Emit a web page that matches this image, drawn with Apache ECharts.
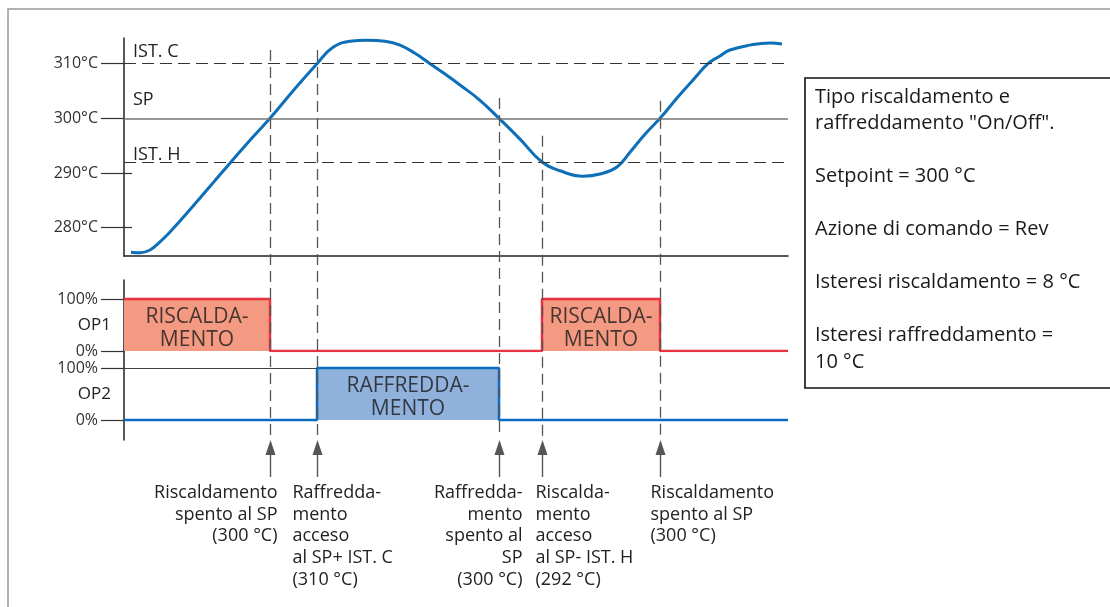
<!DOCTYPE html>
<html>
<head>
<meta charset="utf-8">
<script src="https://cdn.jsdelivr.net/npm/echarts@6/dist/echarts.min.js"></script>
<style>
  html, body { margin: 0; padding: 0; background: #fff; }
  #main { width: 1110px; height: 607px; }
</style>
</head>
<body>
<div id="main"></div>
<script>
// tempo (unità arbitrarie) e temperatura misurata
const timeT = [7, 16, 26, 36, 46, 56, 76, 91, 107, 126, 146, 169, 193, 209, 226, 243, 261, 276, 291, 306, 321, 336, 356, 375, 396, 418, 436, 459, 476, 493, 506, 521, 536, 553, 569, 584, 596, 606, 626, 646, 658];
const tempC = [275.5, 275.4, 275.9, 277.4, 279.2, 281.2, 285.4, 288.6, 292.0, 296.0, 300, 305.0, 310, 313.0, 314.1, 314.3, 314.1, 313.4, 311.9, 310, 308.1, 306.1, 303.3, 300, 296.2, 292, 290.4, 289.4, 289.8, 291.1, 293.8, 297.1, 300, 303.7, 307.0, 310, 311.4, 312.5, 313.4, 313.8, 313.6];

// soglie
const setpoint = 300;
const istC = 310;
const istH = 292;
const tempTicks = [280, 290, 300, 310];

// uscite OP1 (riscaldamento) e OP2 (raffreddamento)
const op1T = [0, 146, 418, 536, 664];
const op1V = [100, 0, 100, 0, 0];
const op2T = [0, 193, 375, 664];
const op2V = [0, 100, 0, 0];
const opTicks = [0, 100];

// eventi (frecce in basso)
const eventT = [146, 193, 375, 418, 536];
const markerTop = [312.5, 312.5, 303.7, 296.8, 303.2];
const notes = [
  'Riscaldamento\nspento al SP\n(300 °C)',
  'Raffredda-\nmento\nacceso\nal SP+ IST. C\n(310 °C)',
  'Raffredda-\nmento\nspento al\nSP\n(300 °C)',
  'Riscalda-\nmento\nacceso\nal SP- IST. H\n(292 °C)',
  'Riscaldamento\nspento al SP\n(300 °C)'
];
const noteAlign = ['right', 'left', 'right', 'left', 'left'];
const noteDx = [7, -25, 23, -7, -10];

const infoText = 'Tipo riscaldamento e\nraffreddamento "On/Off".\n\nSetpoint = 300 °C\n\nAzione di comando = Rev\n\nIsteresi riscaldamento = 8 °C\n\nIsteresi raffreddamento =\n10 °C';

const FONT = "'Open Sans', sans-serif";
const INK = '#222';

let chart = echarts.init(document.getElementById('main'));

function opAxis(gridIndex, min, max) {
  return {
    gridIndex, type: 'value', min, max,
    axisLine: { show: true, lineStyle: { color: INK, width: 1.5 } },
    axisTick: { show: true, customValues: opTicks, length: 23, lineStyle: { color: '#333', width: 1.2 } },
    axisLabel: { customValues: opTicks, formatter: '{value}%', margin: 26, fontSize: 16, color: '#333' },
    splitLine: { show: false }
  };
}

// scritte al centro dei blocchi ON
function blockLabels(ts, vs, txt) {
  let out = [];
  for (let i = 0; i < ts.length - 1; i++) {
    if (vs[i] === 100) out.push({ value: [(ts[i] + ts[i + 1]) / 2, 50], name: txt });
  }
  return out;
}

const boxLabel = {
  show: true, position: 'inside', formatter: '{b}', offset: [0, 4],
  fontSize: 21, lineHeight: 23, color: '#1a1a1a', fontFamily: FONT,
  textBorderWidth: 0
};

let option = {
  animation: false,
  textStyle: { fontFamily: FONT },
  grid: [
    { left: 124, top: 38, width: 664, height: 218 },
    { left: 124, top: 280, width: 664, height: 71 },
    { left: 124, top: 351, width: 664, height: 89 }
  ],
  xAxis: [
    {
      gridIndex: 0, type: 'value', min: 0, max: 664,
      axisLine: { show: true, lineStyle: { color: INK, width: 1.5 } },
      axisTick: { show: false }, axisLabel: { show: false }, splitLine: { show: false }
    },
    { gridIndex: 1, type: 'value', min: 0, max: 664, show: false },
    { gridIndex: 2, type: 'value', min: 0, max: 664, show: false }
  ],
  yAxis: [
    {
      gridIndex: 0, type: 'value', min: 274.8, max: 314.7, position: 'left',
      axisLine: { show: true, lineStyle: { color: INK, width: 1.5 } },
      axisTick: { show: true, customValues: tempTicks, length: 23, lineStyle: { color: '#333', width: 1.2 } },
      axisLabel: { customValues: tempTicks, formatter: '{value}°C', margin: 26, fontSize: 16, color: '#333' },
      splitLine: { show: false }
    },
    {
      // tacche interne a 280 e 290
      gridIndex: 0, type: 'value', min: 274.8, max: 314.7, position: 'left', offset: 0,
      axisLine: { show: false },
      axisTick: { show: true, inside: true, customValues: [280, 290], length: 8, lineStyle: { color: '#333', width: 1.2 } },
      axisLabel: { show: false }, splitLine: { show: false }
    },
    opAxis(1, 0, 136.5),
    opAxis(2, -38.5, 132.7)
  ],
  series: [
    {
      // soglie IST. C / SP / IST. H
      type: 'line', xAxisIndex: 0, yAxisIndex: 0, data: [], z: 1,
      markLine: {
        silent: true, symbol: 'none', label: { show: false },
        data: [
          { yAxis: istC, lineStyle: { color: '#333', width: 1.2, type: [12, 6] } },
          { yAxis: setpoint, lineStyle: { color: '#777', width: 1.5, type: 'solid' } },
          { yAxis: istH, lineStyle: { color: '#333', width: 1.2, type: [12, 6] } }
        ]
      }
    },
    {
      name: 'Temperatura', type: 'line', xAxisIndex: 0, yAxisIndex: 0, z: 3,
      data: timeT.map((t, i) => [t, tempC[i]]),
      smooth: 0.45, symbol: 'none',
      lineStyle: { color: '#0d6fb8', width: 3 }
    },
    {
      name: 'OP1', type: 'line', xAxisIndex: 1, yAxisIndex: 2, step: 'end',
      data: op1T.map((t, i) => [t, op1V[i]]),
      symbol: 'none',
      lineStyle: { color: '#e63241', width: 2.5 },
      areaStyle: { color: '#f49a82', opacity: 1 }
    },
    {
      name: 'OP2', type: 'line', xAxisIndex: 2, yAxisIndex: 3, step: 'end',
      data: op2T.map((t, i) => [t, op2V[i]]),
      symbol: 'none',
      lineStyle: { color: '#0b6cbf', width: 2.5 },
      areaStyle: { color: '#8fb1db', opacity: 1 },
      markLine: {
        silent: true, symbol: 'none', label: { show: false },
        lineStyle: { color: '#444', width: 1.2, type: 'solid' },
        data: [[{ coord: [0, 100] }, { coord: [op2T[1], 100] }]]
      }
    },
    {
      type: 'scatter', xAxisIndex: 1, yAxisIndex: 2, z: 10, silent: true,
      symbol: 'rect', symbolSize: 2, itemStyle: { color: 'rgba(0,0,0,0)' },
      label: boxLabel,
      data: blockLabels(op1T, op1V, 'RISCALDA-\nMENTO')
    },
    {
      type: 'scatter', xAxisIndex: 2, yAxisIndex: 3, z: 10, silent: true,
      symbol: 'rect', symbolSize: 2, itemStyle: { color: 'rgba(0,0,0,0)' },
      label: boxLabel,
      data: blockLabels(op2T, op2V, 'RAFFREDDA-\nMENTO')
    }
  ]
};
chart.setOption(option);

// frecce, etichette e riquadro informativo
function addGraphics() {
  let els = [];

  els.push({ type: 'rect', shape: { x: 8, y: 9, width: 1200, height: 700 }, style: { fill: 'none', stroke: '#999', lineWidth: 1.5 }, silent: true });
  els.push({ type: 'rect', shape: { x: 805, y: 78, width: 320, height: 310 }, style: { fill: 'none', stroke: '#111', lineWidth: 1.6 }, silent: true });
  els.push({
    type: 'text', x: 815, y: 84, silent: true,
    style: { text: infoText, fontSize: 20, fontFamily: FONT, fill: '#1a1a1a', lineHeight: 26.5, align: 'left', verticalAlign: 'top' }
  });

  // nomi delle soglie
  [[istC, 'IST. C', -12], [setpoint, 'SP', -18], [istH, 'IST. H', -7]].forEach(([v, txt, dy]) => {
    let p = chart.convertToPixel({ gridIndex: 0 }, [0, v]);
    els.push({
      type: 'text', x: 133, y: p[1] + dy, silent: true,
      style: { text: txt, fontSize: 18, fontFamily: FONT, fill: INK, align: 'left', verticalAlign: 'middle' }
    });
  });

  // OP1 / OP2
  [[1, 'OP1'], [2, 'OP2']].forEach(([g, txt]) => {
    let p = chart.convertToPixel({ gridIndex: g }, [0, 50]);
    els.push({
      type: 'text', x: 111, y: p[1], silent: true,
      style: { text: txt, fontSize: 17, fontFamily: FONT, fill: INK, align: 'right', verticalAlign: 'middle' }
    });
  });

  eventT.forEach((t, i) => {
    let top = chart.convertToPixel({ gridIndex: 0 }, [t, markerTop[i]]);
    let x = Math.round(top[0]) + 0.5;
    els.push({ type: 'line', shape: { x1: x, y1: top[1], x2: x, y2: 436 }, style: { stroke: '#555', lineWidth: 1.3, lineDash: [11, 6] }, z: 50, silent: true });
    els.push({ type: 'polygon', shape: { points: [[x, 440], [x - 5, 455], [x + 5, 455]] }, style: { fill: '#555' }, z: 50, silent: true });
    els.push({ type: 'line', shape: { x1: x, y1: 455, x2: x, y2: 477 }, style: { stroke: '#555', lineWidth: 1.4 }, z: 50, silent: true });
    els.push({
      type: 'text', x: x + noteDx[i], y: 482, silent: true,
      style: { text: notes[i], fontSize: 18, fontFamily: FONT, fill: INK, lineHeight: 21.7, align: noteAlign[i], verticalAlign: 'top' }
    });
  });

  chart.setOption({ graphic: { elements: els } });
}
addGraphics();
</script>
</body>
</html>
